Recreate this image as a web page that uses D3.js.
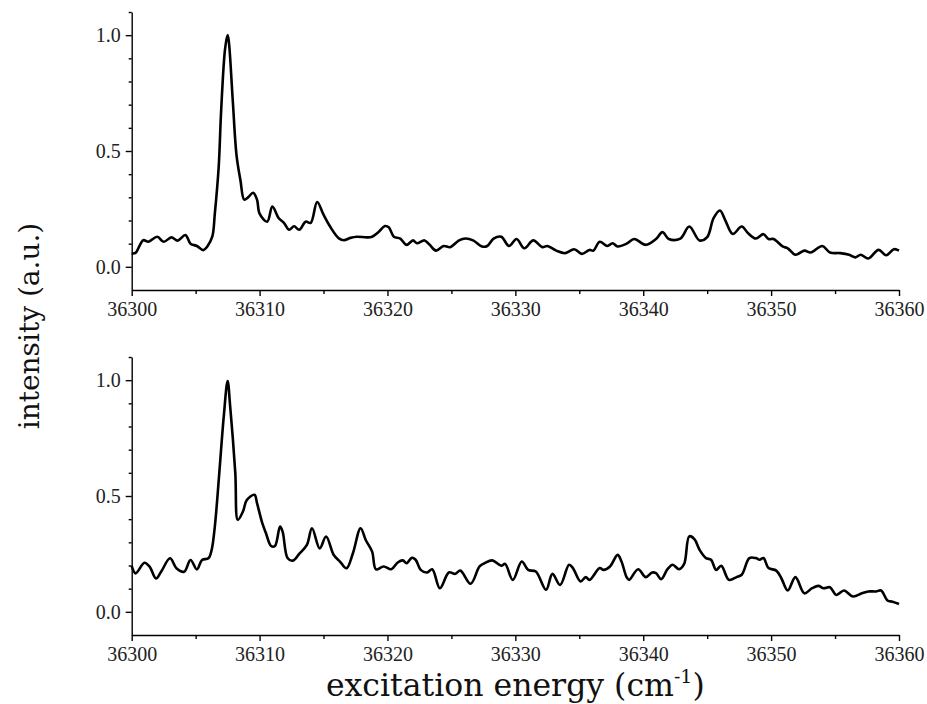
<!DOCTYPE html>
<html>
<head>
<meta charset="utf-8">
<script src="https://cdn.jsdelivr.net/npm/d3@7"></script>
<style>
  body { margin: 0; background: #fff; }
  .axis path, .axis line { stroke: #000; stroke-width: 1.4px; }
  .axis text { font-family: "Liberation Serif", serif; font-size: 20px; fill: #222; }
  .title { font-family: "DejaVu Serif", serif; fill: #111; }
</style>
</head>
<body>
<div id="div_spectra"></div>
<script>
// upper trace
var energyA = [36300.0, 36300.3, 36300.9, 36301.3, 36302.0, 36302.5, 36303.1, 36303.6, 36304.2, 36304.6,
  36305.1, 36305.6, 36305.9, 36306.3, 36306.5, 36306.8, 36307.0, 36307.3, 36307.5, 36307.6,
  36307.9, 36308.2, 36308.5, 36308.8, 36309.1, 36309.5, 36309.8, 36310.0, 36310.6, 36311.0,
  36311.5, 36311.9, 36312.3, 36312.7, 36313.1, 36313.6, 36314.0, 36314.5, 36315.0, 36315.5,
  36316.2, 36316.6, 36317.1, 36317.6, 36318.4, 36318.8, 36319.3, 36319.8, 36320.1, 36320.5,
  36321.0, 36321.5, 36322.0, 36322.3, 36322.9, 36323.3, 36323.8, 36324.4, 36324.9, 36325.6,
  36326.1, 36326.7, 36327.4, 36327.8, 36328.3, 36328.9, 36329.5, 36330.1, 36330.7, 36331.4,
  36332.1, 36332.5, 36333.2, 36333.9, 36334.6, 36335.2, 36335.8, 36336.1, 36336.6, 36337.2,
  36337.6, 36338.0, 36338.7, 36339.3, 36340.2, 36341.0, 36341.5, 36342.0, 36342.9, 36343.6,
  36344.4, 36345.0, 36345.5, 36346.0, 36346.4, 36347.0, 36347.7, 36348.2, 36348.8, 36349.4,
  36349.8, 36350.2, 36350.9, 36351.3, 36351.9, 36352.6, 36353.1, 36354.0, 36354.6, 36355.4,
  36356.1, 36356.6, 36357.0, 36357.6, 36358.4, 36359.0, 36359.6, 36360.0];
var intensityA = [0.058, 0.060, 0.115, 0.108, 0.130, 0.108, 0.127, 0.113, 0.137, 0.100,
  0.090, 0.072, 0.087, 0.130, 0.230, 0.430, 0.680, 0.940, 1.000, 0.970,
  0.720, 0.480, 0.375, 0.290, 0.300, 0.320, 0.290, 0.230, 0.195, 0.260,
  0.210, 0.190, 0.160, 0.175, 0.160, 0.195, 0.190, 0.280, 0.225, 0.175,
  0.123, 0.115, 0.125, 0.130, 0.127, 0.130, 0.150, 0.176, 0.171, 0.130,
  0.122, 0.095, 0.114, 0.102, 0.114, 0.095, 0.070, 0.090, 0.085, 0.114,
  0.122, 0.114, 0.088, 0.090, 0.122, 0.130, 0.090, 0.120, 0.080, 0.114,
  0.085, 0.090, 0.070, 0.059, 0.076, 0.056, 0.073, 0.070, 0.108, 0.090,
  0.102, 0.088, 0.100, 0.120, 0.095, 0.120, 0.150, 0.120, 0.122, 0.174,
  0.114, 0.128, 0.210, 0.243, 0.203, 0.142, 0.174, 0.145, 0.122, 0.141,
  0.120, 0.120, 0.088, 0.080, 0.052, 0.070, 0.062, 0.090, 0.062, 0.059,
  0.052, 0.041, 0.052, 0.036, 0.073, 0.050, 0.076, 0.070];

// lower trace
var energyB = [36300.0, 36300.3, 36301.0, 36301.4, 36301.9, 36302.3, 36303.0, 36303.5, 36304.1, 36304.6,
  36305.1, 36305.5, 36306.0, 36306.25, 36306.5, 36306.85, 36307.2, 36307.5, 36307.7, 36308.1,
  36308.3, 36308.7, 36309.0, 36309.6, 36309.8, 36310.2, 36310.5, 36310.9, 36311.2, 36311.6,
  36311.8, 36312.2, 36312.6, 36313.1, 36313.7, 36314.1, 36314.7, 36315.2, 36315.8, 36316.3,
  36316.8, 36317.3, 36317.9, 36318.3, 36318.8, 36319.1, 36319.7, 36320.3, 36320.8, 36321.2,
  36321.5, 36321.9, 36322.2, 36322.6, 36323.1, 36323.5, 36324.1, 36324.8, 36325.3, 36325.7,
  36326.5, 36327.2, 36327.6, 36328.2, 36328.9, 36329.2, 36329.8, 36330.5, 36331.0, 36331.6,
  36332.4, 36332.9, 36333.5, 36334.2, 36334.5, 36335.1, 36335.5, 36335.8, 36336.6, 36336.9,
  36337.4, 36338.0, 36338.3, 36338.7, 36338.9, 36339.6, 36340.2, 36340.7, 36341.0, 36341.4,
  36341.9, 36342.3, 36342.8, 36343.2, 36343.6, 36344.0, 36344.4, 36344.9, 36345.3, 36345.7,
  36346.1, 36346.7, 36347.3, 36347.7, 36348.3, 36348.8, 36349.1, 36349.4, 36349.8, 36350.4,
  36350.8, 36351.3, 36351.9, 36352.6, 36353.2, 36353.7, 36354.1, 36354.6, 36355.1, 36355.7,
  36356.4, 36357.1, 36357.6, 36358.2, 36358.6, 36359.1, 36359.5, 36360.0];
var intensityB = [0.198, 0.166, 0.212, 0.195, 0.144, 0.173, 0.231, 0.188, 0.173, 0.224,
  0.183, 0.224, 0.231, 0.267, 0.368, 0.600, 0.844, 0.996, 0.887, 0.600,
  0.397, 0.433, 0.483, 0.505, 0.469, 0.385, 0.339, 0.284, 0.284, 0.368,
  0.346, 0.231, 0.221, 0.250, 0.289, 0.361, 0.274, 0.325, 0.245, 0.216,
  0.188, 0.253, 0.361, 0.310, 0.260, 0.183, 0.196, 0.184, 0.213, 0.222,
  0.210, 0.233, 0.225, 0.181, 0.170, 0.184, 0.102, 0.170, 0.164, 0.178,
  0.121, 0.196, 0.210, 0.222, 0.199, 0.207, 0.138, 0.217, 0.181, 0.174,
  0.095, 0.164, 0.116, 0.203, 0.189, 0.131, 0.150, 0.138, 0.189, 0.181,
  0.196, 0.246, 0.217, 0.150, 0.138, 0.184, 0.150, 0.170, 0.167, 0.141,
  0.184, 0.203, 0.184, 0.207, 0.326, 0.314, 0.268, 0.232, 0.225, 0.181,
  0.199, 0.138, 0.150, 0.160, 0.232, 0.232, 0.225, 0.232, 0.189, 0.178,
  0.145, 0.092, 0.150, 0.080, 0.102, 0.112, 0.102, 0.106, 0.073, 0.092,
  0.066, 0.080, 0.088, 0.088, 0.092, 0.049, 0.044, 0.034];

var xTickLabels = [36300, 36310, 36320, 36330, 36340, 36350, 36360];
var yTickLabels = [0.0, 0.5, 1.0];

var width = 927, height = 704;
var left = 131.7, right = 899;
var panelHeight = 278;
var panelTops = [12, 357];

var svg = d3.select('#div_spectra').append('svg')
    .attr('width', width)
    .attr('height', height);

var x = d3.scaleLinear().domain([36300, 36360]).range([left, right]);

function drawPanel(top, energy, intensity) {
    var y = d3.scaleLinear().domain([-0.1, 1.1]).range([top + panelHeight, top]);
    var g = svg.append('g');

    // minor ticks first, majors on top
    g.append('g')
        .attr('class', 'axis')
        .attr('transform', 'translate(0,' + (top + panelHeight) + ')')
        .call(d3.axisBottom(x).tickValues(d3.range(36305, 36360, 10)).tickSize(4).tickFormat(''))
        .select('.domain').remove();
    g.append('g')
        .attr('class', 'axis')
        .attr('transform', 'translate(' + left + ',0)')
        .call(d3.axisLeft(y).tickValues([0.1, 0.2, 0.3, 0.4, 0.6, 0.7, 0.8, 0.9, 1.1]).tickSize(3).tickFormat(''))
        .select('.domain').remove();

    g.append('g')
        .attr('class', 'axis')
        .attr('transform', 'translate(0,' + (top + panelHeight) + ')')
        .call(d3.axisBottom(x).tickValues(xTickLabels).tickSize(6).tickSizeOuter(0).tickPadding(6).tickFormat(d3.format('d')));
    g.append('g')
        .attr('class', 'axis')
        .attr('transform', 'translate(' + left + ',0)')
        .call(d3.axisLeft(y).tickValues(yTickLabels).tickSize(6).tickSizeOuter(0).tickPadding(5).tickFormat(d3.format('.1f')));

    var line = d3.line()
        .curve(d3.curveCatmullRom.alpha(0.5))
        .x(function (d, i) { return x(energy[i]); })
        .y(function (d) { return y(d); });

    g.append('path')
        .attr('d', line(intensity))
        .attr('fill', 'none')
        .attr('stroke', '#000')
        .attr('stroke-width', 2.6)
        .attr('stroke-linejoin', 'round');
}

drawPanel(panelTops[0], energyA, intensityA);
drawPanel(panelTops[1], energyB, intensityB);

svg.append('text')
    .attr('class', 'title')
    .attr('transform', 'translate(39,326) rotate(-90)')
    .attr('text-anchor', 'middle')
    .style('font-size', '28px')
    .text('intensity (a.u.)');

var xt = svg.append('text')
    .attr('class', 'title')
    .attr('x', (left + right) / 2)
    .attr('y', 696)
    .attr('text-anchor', 'middle')
    .style('font-size', '31.5px');
xt.append('tspan').text('excitation energy (cm');
xt.append('tspan').attr('dy', -13).style('font-size', '19px').text('-1');
xt.append('tspan').attr('dy', 13).text(')');
</script>
</body>
</html>
